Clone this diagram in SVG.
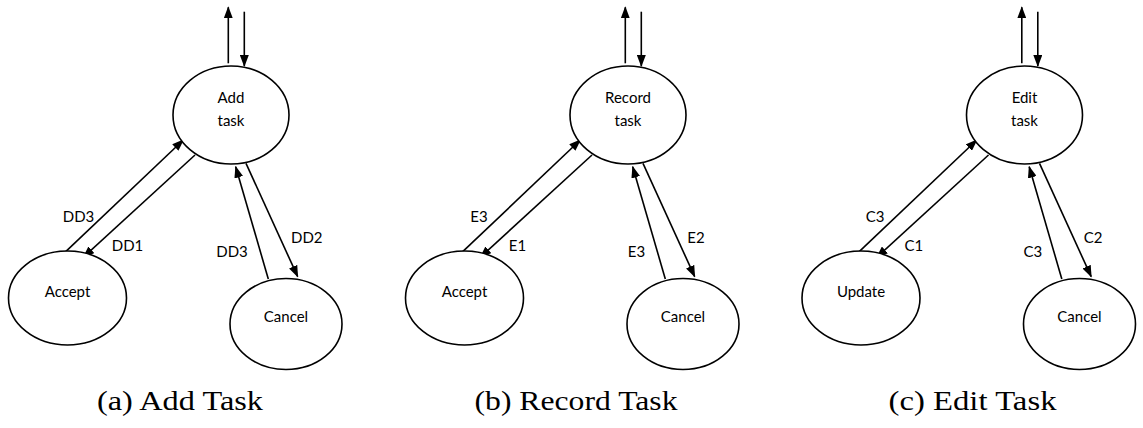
<svg xmlns="http://www.w3.org/2000/svg" width="1143" height="428" viewBox="0 0 1143 428">
  <style>
    .node { fill: #ffffff; stroke: #000000; stroke-width: 1.6; }
    .edge { fill: none; stroke: #000000; stroke-width: 1.6; marker-end: url(#head); }
    .lbl { font-family: Lato, "Open Sans", sans-serif; font-size: 15px; fill: #000000; text-anchor: middle; }
    .cap { font-family: "Liberation Serif", "DejaVu Serif", serif; font-size: 27px; fill: #000000; text-anchor: middle; }
  </style>
  <defs>
    <marker id="head" viewBox="0 0 12 9" refX="11" refY="4.5" markerWidth="12" markerHeight="9" markerUnits="userSpaceOnUse" orient="auto">
      <path d="M0,0 L12,4.5 L0,9 z" fill="#000000"/>
    </marker>
  </defs>

  <!-- (a) Add Task -->
  <g id="panel-a">
    <g id="a-connectors">
      <line class="edge" x1="228.3" y1="63.3" x2="228.3" y2="7.3"/>
      <line class="edge" x1="244.3" y1="11.7" x2="244.3" y2="66"/>
      <line class="edge" x1="65.7" y1="251.7" x2="183.3" y2="140"/>
      <line class="edge" x1="195" y1="155" x2="83.3" y2="257.3"/>
      <line class="edge" x1="268.3" y1="279" x2="235.7" y2="166.7"/>
      <line class="edge" x1="246" y1="163.3" x2="297.7" y2="276.7"/>
      <text class="lbl" x="78.5" y="221.7">DD3</text>
      <text class="lbl" x="127.5" y="250.7">DD1</text>
      <text class="lbl" x="232" y="257.3">DD3</text>
      <text class="lbl" x="306.8" y="243.3">DD2</text>
    </g>
    <g id="a-add-task">
      <ellipse class="node" cx="231" cy="115" rx="58" ry="49"/>
      <text class="lbl" x="231" y="103">Add</text>
      <text class="lbl" x="231" y="126">task</text>
    </g>
    <g id="a-accept">
      <ellipse class="node" cx="67.5" cy="298" rx="59" ry="47"/>
      <text class="lbl" x="67.5" y="297.3">Accept</text>
    </g>
    <g id="a-cancel">
      <ellipse class="node" cx="286" cy="324" rx="56" ry="45.5"/>
      <text class="lbl" x="286" y="321.7">Cancel</text>
    </g>
    <text class="cap" x="180" y="410" textLength="166" lengthAdjust="spacingAndGlyphs">(a) Add Task</text>
  </g>

  <!-- (b) Record Task -->
  <g id="panel-b" transform="translate(397,0)">
    <g id="b-connectors">
      <line class="edge" x1="228.3" y1="63.3" x2="228.3" y2="7.3"/>
      <line class="edge" x1="244.3" y1="11.7" x2="244.3" y2="66"/>
      <line class="edge" x1="65.7" y1="251.7" x2="183.3" y2="140"/>
      <line class="edge" x1="195" y1="155" x2="83.3" y2="257.3"/>
      <line class="edge" x1="268.3" y1="279" x2="235.7" y2="166.7"/>
      <line class="edge" x1="246" y1="163.3" x2="297.7" y2="276.7"/>
      <text class="lbl" x="82" y="221.7">E3</text>
      <text class="lbl" x="120.5" y="250.7">E1</text>
      <text class="lbl" x="239.5" y="257.3">E3</text>
      <text class="lbl" x="299" y="243.3">E2</text>
    </g>
    <g id="b-record-task">
      <ellipse class="node" cx="231" cy="115" rx="58" ry="49"/>
      <text class="lbl" x="231" y="103">Record</text>
      <text class="lbl" x="231" y="126">task</text>
    </g>
    <g id="b-accept">
      <ellipse class="node" cx="67.5" cy="298" rx="59" ry="47"/>
      <text class="lbl" x="67.5" y="297.3">Accept</text>
    </g>
    <g id="b-cancel">
      <ellipse class="node" cx="286" cy="324" rx="56" ry="45.5"/>
      <text class="lbl" x="286" y="321.7">Cancel</text>
    </g>
    <text class="cap" x="179" y="410" textLength="203" lengthAdjust="spacingAndGlyphs">(b) Record Task</text>
  </g>

  <!-- (c) Edit Task -->
  <g id="panel-c" transform="translate(793.5,0)">
    <g id="c-connectors">
      <line class="edge" x1="228.3" y1="63.3" x2="228.3" y2="7.3"/>
      <line class="edge" x1="244.3" y1="11.7" x2="244.3" y2="66"/>
      <line class="edge" x1="65.7" y1="251.7" x2="183.3" y2="140"/>
      <line class="edge" x1="195" y1="155" x2="83.3" y2="257.3"/>
      <line class="edge" x1="268.3" y1="279" x2="235.7" y2="166.7"/>
      <line class="edge" x1="246" y1="163.3" x2="297.7" y2="276.7"/>
      <text class="lbl" x="81.7" y="221.7">C3</text>
      <text class="lbl" x="120.3" y="250.7">C1</text>
      <text class="lbl" x="239.3" y="257.3">C3</text>
      <text class="lbl" x="299.7" y="243.3">C2</text>
    </g>
    <g id="c-edit-task">
      <ellipse class="node" cx="231" cy="115" rx="58" ry="49"/>
      <text class="lbl" x="231" y="103">Edit</text>
      <text class="lbl" x="231" y="126">task</text>
    </g>
    <g id="c-update">
      <ellipse class="node" cx="67.5" cy="298" rx="59" ry="47"/>
      <text class="lbl" x="67.5" y="297.3">Update</text>
    </g>
    <g id="c-cancel">
      <ellipse class="node" cx="286" cy="324" rx="56" ry="45.5"/>
      <text class="lbl" x="286" y="321.7">Cancel</text>
    </g>
    <text class="cap" x="179" y="410" textLength="168" lengthAdjust="spacingAndGlyphs">(c) Edit Task</text>
  </g>
</svg>
